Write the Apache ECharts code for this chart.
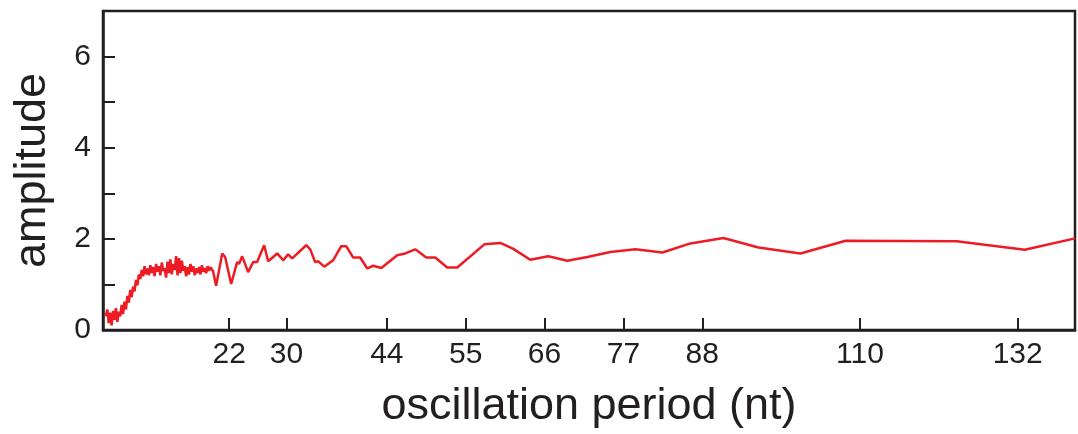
<!DOCTYPE html>
<html>
<head>
<meta charset="utf-8">
<title>amplitude vs oscillation period</title>
<script src="https://cdn.jsdelivr.net/npm/echarts@6/dist/echarts.min.js"></script>
<style>
  html, body { margin: 0; padding: 0; background: #fff; }
  #chart { width: 1078px; height: 434px; }
</style>
</head>
<body>
<div id="chart"></div>
<script>
// oscillation period (nt) and amplitude
const periods = [
  4.8, 5.0, 5.2, 5.4, 5.6, 5.8, 6.0, 6.2, 6.4, 6.6, 6.8, 7.0, 7.2, 7.4, 7.6, 7.8,
  8.0, 8.2, 8.4, 8.6, 8.8, 9.0, 9.2, 9.4, 9.6, 9.8, 10.0, 10.2, 10.4, 10.6, 10.8,
  11.0, 11.2, 11.4, 11.6, 11.8, 12.0, 12.2, 12.4, 12.6, 12.8, 13.0, 13.2, 13.4,
  13.6, 13.8, 14.0, 14.2, 14.4, 14.6, 14.8, 15.0, 15.2, 15.4, 15.6, 15.8, 16.0,
  16.2, 16.4, 16.6, 16.8, 17.0, 17.2, 17.4, 17.6, 17.8, 18.0, 18.2, 18.4, 18.6,
  18.8, 19.0, 19.2, 19.4,
  19.76, 20.18, 21.03, 21.44, 22.28, 23.11, 23.39, 23.81, 24.65, 25.35, 25.9,
  26.88, 27.44, 28.7, 29.54, 30.23, 30.79, 32.75, 33.31, 34.0, 34.4, 35.26,
  36.5, 37.63, 38.33, 39.31, 40.28, 41.26, 42.1, 43.22, 45.45, 46.56, 47.96,
  49.5, 50.75, 52.43, 53.82, 57.6, 59.83, 61.64, 64.01, 66.53, 69.18, 71.97,
  75.18, 78.67, 82.44, 86.35, 90.95, 95.84, 101.7, 108.0, 123.5, 133.0, 140.0
];
const amplitudes = [
  0.30, 0.45, 0.15, 0.38, 0.10, 0.42, 0.22, 0.48, 0.18, 0.40, 0.30, 0.55, 0.35, 0.62, 0.45, 0.75,
  0.60, 0.88, 0.72, 0.95, 0.85, 1.10, 0.98, 1.22, 1.12, 1.32, 1.18, 1.40, 1.22, 1.35, 1.20,
  1.42, 1.25, 1.38, 1.18, 1.45, 1.28, 1.40, 1.20, 1.48, 1.30, 1.35, 1.15, 1.50,
  1.25, 1.55, 1.22, 1.45, 1.32, 1.62, 1.20, 1.58, 1.25, 1.52, 1.30, 1.40, 1.18,
  1.38, 1.22, 1.45, 1.28, 1.40, 1.20, 1.35, 1.25, 1.38, 1.22, 1.42, 1.28, 1.36,
  1.25, 1.40, 1.30, 1.38,
  1.29, 0.97, 1.68, 1.60, 1.01, 1.49, 1.45, 1.62, 1.27, 1.49, 1.49,
  1.86, 1.51, 1.68, 1.53, 1.66, 1.57, 1.86, 1.77, 1.49, 1.51, 1.39,
  1.53, 1.84, 1.84, 1.59, 1.59, 1.35, 1.41, 1.36, 1.64, 1.68, 1.77,
  1.59, 1.59, 1.37, 1.37, 1.88, 1.91, 1.78, 1.54, 1.62, 1.52, 1.60,
  1.71, 1.77, 1.70, 1.90, 2.02, 1.81, 1.68, 1.96, 1.95, 1.76, 2.01
];
const xTickValues = [22, 30, 44, 55, 66, 77, 88, 110, 132];
const yLabelValues = [0, 2, 4, 6];

const ink = '#231f20';
const chart = echarts.init(document.getElementById('chart'));

chart.setOption({
  animation: false,
  grid: {
    left: 103, right: 3, top: 11, bottom: 102,
    show: true, borderColor: ink, borderWidth: 2.5
  },
  xAxis: {
    type: 'value',
    min: 4.4,
    max: 140,
    name: 'oscillation period (nt)',
    nameLocation: 'middle',
    nameGap: 54,
    nameTextStyle: { fontFamily: 'Liberation Sans', fontSize: 45, color: ink },
    axisLine: { lineStyle: { color: ink, width: 2.5 } },
    axisTick: { inside: true, length: 12, customValues: xTickValues, lineStyle: { color: ink, width: 2 } },
    axisLabel: {
      customValues: xTickValues,
      margin: 10,
      fontFamily: 'Liberation Sans', fontSize: 30, color: ink
    },
    splitLine: { show: false }
  },
  yAxis: {
    type: 'value',
    min: 0,
    max: 7,
    interval: 1,
    name: 'amplitude',
    nameLocation: 'middle',
    nameGap: 48,
    nameTextStyle: { fontFamily: 'Liberation Sans', fontSize: 45, color: ink },
    axisLine: { lineStyle: { color: ink, width: 2.5 } },
    axisTick: { inside: true, length: 12, lineStyle: { color: ink, width: 2 } },
    axisLabel: {
      margin: 12,
      fontFamily: 'Liberation Sans', fontSize: 30, color: ink,
      formatter: v => (yLabelValues.includes(v) ? String(v) : '')
    },
    splitLine: { show: false }
  },
  series: [{
    type: 'line',
    data: periods.map((p, i) => [p, amplitudes[i]]),
    showSymbol: false,
    lineStyle: { color: '#ed1c24', width: 2.5 },
    clip: true
  }]
});
</script>
</body>
</html>
